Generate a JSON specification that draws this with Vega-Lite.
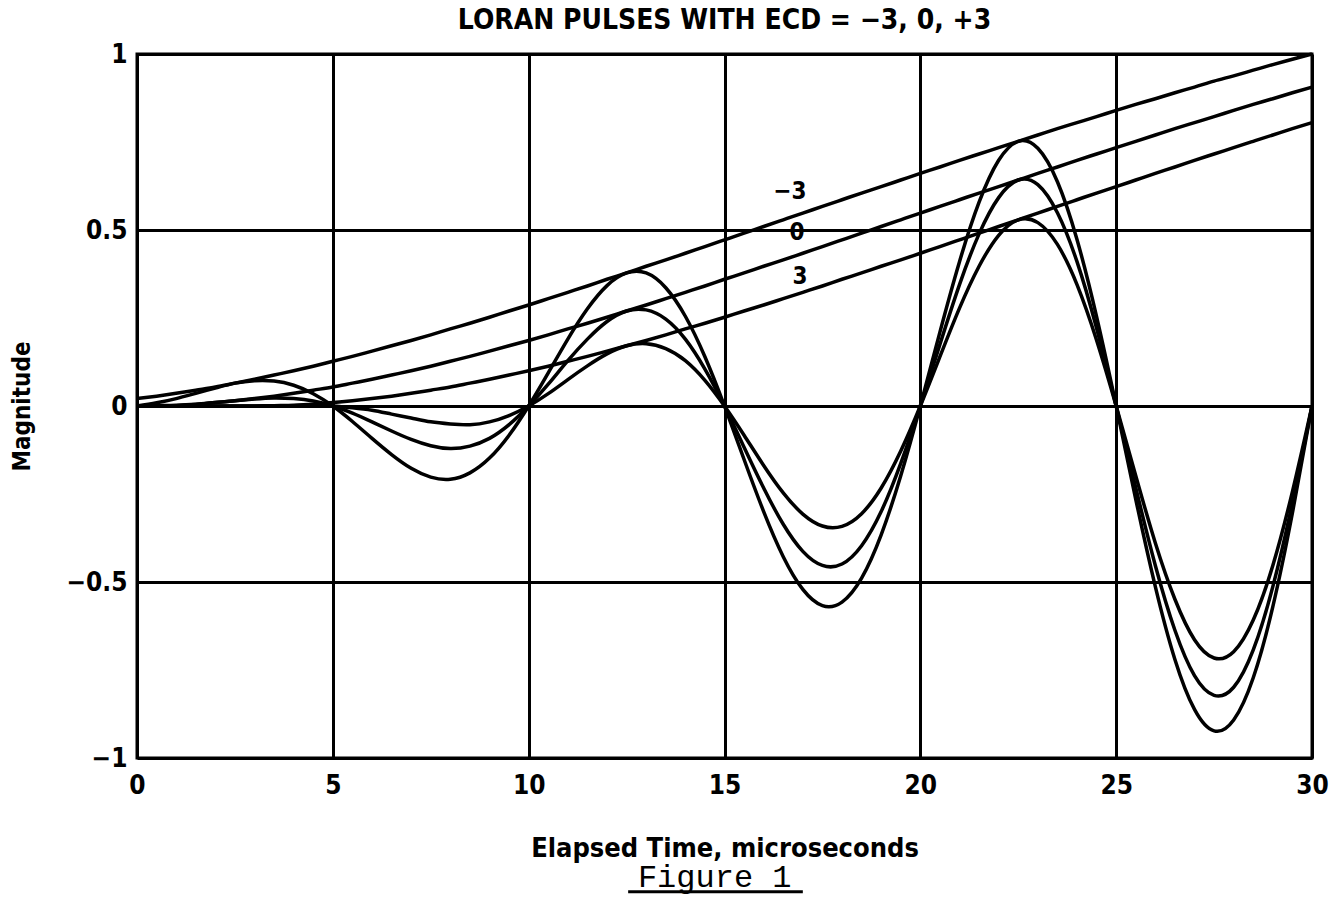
{
  "$schema": "https://vega.github.io/schema/vega-lite/v6.json",
  "autosize": "none",
  "width": 1175,
  "height": 704,
  "padding": {"left": 137, "top": 54, "right": 24, "bottom": 139},
  "background": "white",
  "config": {
    "view": {"stroke": "black", "strokeWidth": 3},
    "font": "DejaVu Sans Condensed"
  },
  "title": {
    "text": "LORAN PULSES WITH ECD = −3, 0, +3",
    "font": "DejaVu Sans Condensed",
    "fontSize": 28,
    "fontWeight": "bold",
    "color": "black",
    "anchor": "middle",
    "offset": 6
  },
  "datasets": {
    "pulse": [
      {"t": 0, "em3": 0.021, "e0": 0, "ep3": 0, "cm3": 0, "c0": 0, "cp3": 0},
      {"t": 0.5, "em3": 0.028, "e0": 0.001, "ep3": 0, "cm3": 0.009, "c0": 0, "cp3": 0},
      {"t": 1, "em3": 0.036, "e0": 0.002, "ep3": 0, "cm3": 0.021, "c0": 0.001, "cp3": 0},
      {"t": 1.5, "em3": 0.045, "e0": 0.005, "ep3": 0, "cm3": 0.036, "c0": 0.004, "cp3": 0},
      {"t": 2, "em3": 0.054, "e0": 0.010, "ep3": 0, "cm3": 0.051, "c0": 0.010, "cp3": 0},
      {"t": 2.5, "em3": 0.065, "e0": 0.015, "ep3": 0, "cm3": 0.065, "c0": 0.015, "cp3": 0},
      {"t": 3, "em3": 0.076, "e0": 0.021, "ep3": 0, "cm3": 0.072, "c0": 0.020, "cp3": 0},
      {"t": 3.5, "em3": 0.088, "e0": 0.028, "ep3": 0.001, "cm3": 0.071, "c0": 0.023, "cp3": 0.001},
      {"t": 4, "em3": 0.100, "e0": 0.036, "ep3": 0.002, "cm3": 0.059, "c0": 0.021, "cp3": 0.001},
      {"t": 4.5, "em3": 0.113, "e0": 0.045, "ep3": 0.005, "cm3": 0.035, "c0": 0.014, "cp3": 0.002},
      {"t": 5, "em3": 0.127, "e0": 0.054, "ep3": 0.010, "cm3": 0, "c0": 0, "cp3": 0},
      {"t": 5.5, "em3": 0.141, "e0": 0.065, "ep3": 0.015, "cm3": -0.044, "c0": -0.020, "cp3": -0.005},
      {"t": 6, "em3": 0.156, "e0": 0.076, "ep3": 0.021, "cm3": -0.092, "c0": -0.045, "cp3": -0.012},
      {"t": 6.5, "em3": 0.171, "e0": 0.088, "ep3": 0.028, "cm3": -0.138, "c0": -0.071, "cp3": -0.023},
      {"t": 7, "em3": 0.186, "e0": 0.100, "ep3": 0.036, "cm3": -0.177, "c0": -0.095, "cp3": -0.034},
      {"t": 7.5, "em3": 0.202, "e0": 0.113, "ep3": 0.045, "cm3": -0.202, "c0": -0.113, "cp3": -0.045},
      {"t": 8, "em3": 0.219, "e0": 0.127, "ep3": 0.054, "cm3": -0.208, "c0": -0.121, "cp3": -0.051},
      {"t": 8.5, "em3": 0.235, "e0": 0.141, "ep3": 0.065, "cm3": -0.190, "c0": -0.114, "cp3": -0.053},
      {"t": 9, "em3": 0.252, "e0": 0.156, "ep3": 0.076, "cm3": -0.148, "c0": -0.092, "cp3": -0.045},
      {"t": 9.5, "em3": 0.270, "e0": 0.171, "ep3": 0.088, "cm3": -0.083, "c0": -0.053, "cp3": -0.027},
      {"t": 10, "em3": 0.287, "e0": 0.186, "ep3": 0.100, "cm3": 0, "c0": 0, "cp3": 0},
      {"t": 10.5, "em3": 0.305, "e0": 0.202, "ep3": 0.113, "cm3": 0.094, "c0": 0.062, "cp3": 0.035},
      {"t": 11, "em3": 0.323, "e0": 0.219, "ep3": 0.127, "cm3": 0.190, "c0": 0.129, "cp3": 0.075},
      {"t": 11.5, "em3": 0.341, "e0": 0.235, "ep3": 0.141, "cm3": 0.276, "c0": 0.190, "cp3": 0.114},
      {"t": 12, "em3": 0.360, "e0": 0.252, "ep3": 0.156, "cm3": 0.342, "c0": 0.240, "cp3": 0.148},
      {"t": 12.5, "em3": 0.378, "e0": 0.270, "ep3": 0.171, "cm3": 0.378, "c0": 0.270, "cp3": 0.171},
      {"t": 13, "em3": 0.397, "e0": 0.287, "ep3": 0.186, "cm3": 0.378, "c0": 0.273, "cp3": 0.177},
      {"t": 13.5, "em3": 0.415, "e0": 0.305, "ep3": 0.202, "cm3": 0.336, "c0": 0.247, "cp3": 0.163},
      {"t": 14, "em3": 0.434, "e0": 0.323, "ep3": 0.219, "cm3": 0.255, "c0": 0.190, "cp3": 0.129},
      {"t": 14.5, "em3": 0.453, "e0": 0.341, "ep3": 0.235, "cm3": 0.140, "c0": 0.105, "cp3": 0.073},
      {"t": 15, "em3": 0.472, "e0": 0.360, "ep3": 0.252, "cm3": 0, "c0": 0, "cp3": 0},
      {"t": 15.5, "em3": 0.491, "e0": 0.378, "ep3": 0.270, "cm3": -0.152, "c0": -0.117, "cp3": -0.083},
      {"t": 16, "em3": 0.510, "e0": 0.397, "ep3": 0.287, "cm3": -0.300, "c0": -0.233, "cp3": -0.169},
      {"t": 16.5, "em3": 0.529, "e0": 0.415, "ep3": 0.305, "cm3": -0.428, "c0": -0.336, "cp3": -0.247},
      {"t": 17, "em3": 0.548, "e0": 0.434, "ep3": 0.323, "cm3": -0.521, "c0": -0.413, "cp3": -0.307},
      {"t": 17.5, "em3": 0.567, "e0": 0.453, "ep3": 0.341, "cm3": -0.567, "c0": -0.453, "cp3": -0.341},
      {"t": 18, "em3": 0.586, "e0": 0.472, "ep3": 0.360, "cm3": -0.557, "c0": -0.449, "cp3": -0.342},
      {"t": 18.5, "em3": 0.605, "e0": 0.491, "ep3": 0.378, "cm3": -0.489, "c0": -0.397, "cp3": -0.306},
      {"t": 19, "em3": 0.623, "e0": 0.510, "ep3": 0.397, "cm3": -0.366, "c0": -0.300, "cp3": -0.233},
      {"t": 19.5, "em3": 0.642, "e0": 0.529, "ep3": 0.415, "cm3": -0.198, "c0": -0.163, "cp3": -0.128},
      {"t": 20, "em3": 0.661, "e0": 0.548, "ep3": 0.434, "cm3": 0, "c0": 0, "cp3": 0},
      {"t": 20.5, "em3": 0.679, "e0": 0.567, "ep3": 0.453, "cm3": 0.210, "c0": 0.175, "cp3": 0.140},
      {"t": 21, "em3": 0.698, "e0": 0.586, "ep3": 0.472, "cm3": 0.410, "c0": 0.345, "cp3": 0.278},
      {"t": 21.5, "em3": 0.716, "e0": 0.605, "ep3": 0.491, "cm3": 0.579, "c0": 0.489, "cp3": 0.397},
      {"t": 22, "em3": 0.734, "e0": 0.623, "ep3": 0.510, "cm3": 0.698, "c0": 0.592, "cp3": 0.485},
      {"t": 22.5, "em3": 0.752, "e0": 0.642, "ep3": 0.529, "cm3": 0.752, "c0": 0.642, "cp3": 0.529},
      {"t": 23, "em3": 0.770, "e0": 0.661, "ep3": 0.548, "cm3": 0.732, "c0": 0.629, "cp3": 0.521},
      {"t": 23.5, "em3": 0.788, "e0": 0.679, "ep3": 0.567, "cm3": 0.637, "c0": 0.549, "cp3": 0.459},
      {"t": 24, "em3": 0.805, "e0": 0.698, "ep3": 0.586, "cm3": 0.473, "c0": 0.410, "cp3": 0.345},
      {"t": 24.5, "em3": 0.822, "e0": 0.716, "ep3": 0.605, "cm3": 0.254, "c0": 0.221, "cp3": 0.187},
      {"t": 25, "em3": 0.840, "e0": 0.734, "ep3": 0.623, "cm3": 0, "c0": 0, "cp3": 0},
      {"t": 25.5, "em3": 0.857, "e0": 0.752, "ep3": 0.642, "cm3": -0.265, "c0": -0.232, "cp3": -0.198},
      {"t": 26, "em3": 0.873, "e0": 0.770, "ep3": 0.661, "cm3": -0.513, "c0": -0.453, "cp3": -0.389},
      {"t": 26.5, "em3": 0.890, "e0": 0.788, "ep3": 0.679, "cm3": -0.720, "c0": -0.637, "cp3": -0.549},
      {"t": 27, "em3": 0.906, "e0": 0.805, "ep3": 0.698, "cm3": -0.862, "c0": -0.766, "cp3": -0.664},
      {"t": 27.5, "em3": 0.923, "e0": 0.822, "ep3": 0.716, "cm3": -0.923, "c0": -0.822, "cp3": -0.716},
      {"t": 28, "em3": 0.938, "e0": 0.840, "ep3": 0.734, "cm3": -0.892, "c0": -0.799, "cp3": -0.698},
      {"t": 28.5, "em3": 0.954, "e0": 0.857, "ep3": 0.752, "cm3": -0.772, "c0": -0.693, "cp3": -0.608},
      {"t": 29, "em3": 0.970, "e0": 0.873, "ep3": 0.770, "cm3": -0.570, "c0": -0.513, "cp3": -0.453},
      {"t": 29.5, "em3": 0.985, "e0": 0.890, "ep3": 0.788, "cm3": -0.304, "c0": -0.275, "cp3": -0.243},
      {"t": 30, "em3": 1.000, "e0": 0.906, "ep3": 0.805, "cm3": 0, "c0": 0, "cp3": 0}
    ],
    "labels": [
      {"t": 16.67, "v": 0.608, "label": "−3"},
      {"t": 16.85, "v": 0.491, "label": "0"},
      {"t": 16.93, "v": 0.366, "label": "3"}
    ]
  },
  "layer": [
    {
      "data": {"name": "pulse"},
      "transform": [{"fold": ["em3", "e0", "ep3"], "as": ["series", "value"]}],
      "mark": {"type": "line", "stroke": "black", "strokeWidth": 3.5, "interpolate": "monotone"},
      "encoding": {
        "x": {
          "field": "t", "type": "quantitative",
          "scale": {"domain": [0, 30], "nice": false, "zero": false},
          "axis": {
            "values": [0, 5, 10, 15, 20, 25, 30],
            "grid": true, "gridColor": "black", "gridWidth": 3, "gridOpacity": 1,
            "domain": false, "ticks": false,
            "labelFlush": false, "labelOverlap": false,
            "labelFont": "DejaVu Sans Condensed", "labelFontSize": 26, "labelFontWeight": "bold", "labelColor": "black",
            "labelPadding": 14,
            "title": "Elapsed Time, microseconds",
            "titleFont": "DejaVu Sans Condensed", "titleFontSize": 27, "titleFontWeight": "bold", "titleColor": "black",
            "titlePadding": 37
          }
        },
        "y": {
          "field": "value", "type": "quantitative",
          "scale": {"domain": [-1, 1], "nice": false},
          "axis": {
            "values": [-1, -0.5, 0, 0.5, 1],
            "format": "~g",
            "grid": true, "gridColor": "black", "gridWidth": 3, "gridOpacity": 1,
            "domain": false, "ticks": false,
            "labelFlush": false, "labelOverlap": false,
            "labelFont": "DejaVu Sans Condensed", "labelFontSize": 26, "labelFontWeight": "bold", "labelColor": "black",
            "labelPadding": 10,
            "title": "Magnitude",
            "titleFont": "DejaVu Sans Condensed", "titleFontSize": 24, "titleFontWeight": "bold", "titleColor": "black",
            "titlePadding": 31
          }
        },
        "detail": {"field": "series"}
      }
    },
    {
      "data": {"name": "pulse"},
      "transform": [{"fold": ["cm3", "c0", "cp3"], "as": ["series", "value"]}],
      "mark": {"type": "line", "stroke": "black", "strokeWidth": 3.5, "interpolate": "natural"},
      "encoding": {
        "x": {"field": "t", "type": "quantitative"},
        "y": {"field": "value", "type": "quantitative"},
        "detail": {"field": "series"}
      }
    },
    {
      "data": {"name": "labels"},
      "mark": {"type": "text", "font": "DejaVu Sans Condensed", "fontSize": 24, "fontWeight": "bold", "color": "black", "align": "center", "baseline": "middle"},
      "encoding": {
        "x": {"field": "t", "type": "quantitative"},
        "y": {"field": "v", "type": "quantitative"},
        "text": {"field": "label"}
      }
    },
    {
      "data": {"values": [{}]},
      "mark": {"type": "text", "text": "Figure 1", "font": "Liberation Mono", "fontSize": 32, "color": "black", "align": "center", "baseline": "alphabetic"},
      "encoding": {
        "x": {"datum": 14.75, "type": "quantitative"},
        "y": {"datum": -1.366, "type": "quantitative"}
      }
    },
    {
      "data": {"values": [{}]},
      "mark": {"type": "rule", "stroke": "black", "strokeWidth": 3},
      "encoding": {
        "x": {"datum": 12.54, "type": "quantitative"},
        "x2": {"datum": 17.0},
        "y": {"datum": -1.38, "type": "quantitative"}
      }
    }
  ]
}
